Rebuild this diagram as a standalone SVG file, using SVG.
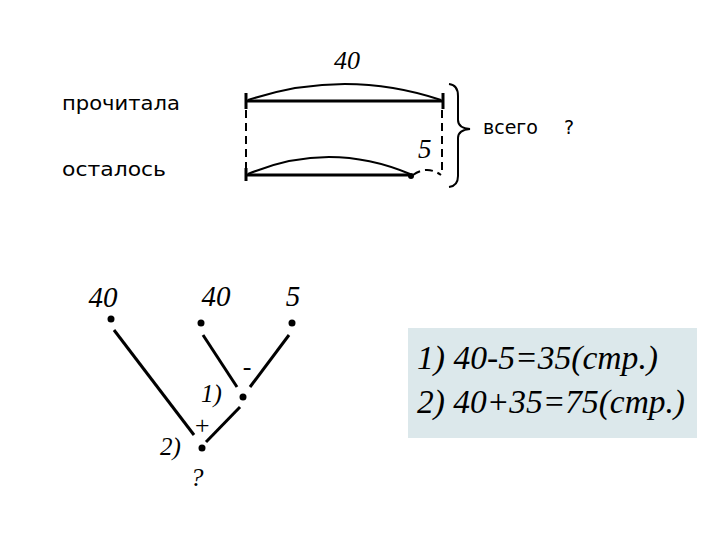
<svg xmlns="http://www.w3.org/2000/svg" width="720" height="540" viewBox="0 0 720 540">
<style>
.ln{stroke:#000;stroke-width:3;fill:none}
.arc{stroke:#000;stroke-width:2;fill:none}
.dash{stroke:#000;stroke-width:2;fill:none;stroke-dasharray:8,5}
.sans{font-family:"DejaVu Sans","Noto Sans",sans-serif;font-size:19px;fill:#000}
.it{font-family:"Liberation Serif",serif;font-style:italic;fill:#000}
.dot{fill:#000}
</style>
<rect width="720" height="540" fill="#fff"/>
<g id="segment-diagram">
  <text class="it" x="347" y="69" font-size="26" text-anchor="middle">40</text>
  <text class="sans" x="62" y="110" textLength="118" lengthAdjust="spacingAndGlyphs">прочитала</text>
  <text class="sans" x="62" y="176" textLength="104" lengthAdjust="spacingAndGlyphs">осталось</text>
  <line class="ln" x1="246" y1="101" x2="443" y2="101"/>
  <line class="ln" x1="246" y1="93" x2="246" y2="109"/>
  <line class="ln" x1="443" y1="93" x2="443" y2="109"/>
  <path class="arc" d="M248,100 Q345,68 441,100"/>
  <line class="dash" x1="246" y1="110" x2="246" y2="170"/>
  <line class="dash" x1="442" y1="110" x2="442" y2="172"/>
  <line class="ln" x1="246" y1="175" x2="411" y2="175"/>
  <line class="ln" x1="246" y1="168" x2="246" y2="181"/>
  <circle class="dot" cx="411" cy="176" r="3"/>
  <path class="arc" d="M248,174 Q329,140 410,174"/>
  <path class="dash" d="M413,175 Q427,165 441,175" stroke-dasharray="5,4"/>
  <text class="it" x="418" y="158" font-size="27">5</text>
  <path class="arc" d="M449,84 Q458,85 458,96 L458,120 Q458,128 470,129 Q458,130 458,138 L458,176 Q458,186 449,187"/>
  <text class="sans" x="483" y="134">всего</text>
  <text class="sans" x="564" y="134">?</text>
</g>
<g id="tree-connectors">
  <line class="ln" x1="114" y1="330" x2="194" y2="435"/>
  <line class="ln" x1="203" y1="335" x2="237" y2="387"/>
  <line class="ln" x1="289" y1="335" x2="250" y2="387"/>
  <line class="ln" x1="240" y1="407" x2="206" y2="442"/>
</g>
<g id="node-40a">
  <text class="it" x="103" y="307" font-size="29" text-anchor="middle">40</text>
  <circle class="dot" cx="111" cy="319" r="3.5"/>
</g>
<g id="node-40b">
  <text class="it" x="216" y="306" font-size="29" text-anchor="middle">40</text>
  <circle class="dot" cx="201" cy="323" r="3.5"/>
</g>
<g id="node-5">
  <text class="it" x="293" y="306" font-size="29" text-anchor="middle">5</text>
  <circle class="dot" cx="292" cy="323" r="3.5"/>
</g>
<g id="node-1">
  <text class="it" x="247" y="375" font-size="26" text-anchor="middle">-</text>
  <text class="it" x="201" y="402" font-size="25">1)</text>
  <circle class="dot" cx="243" cy="397" r="3.5"/>
</g>
<g id="node-2">
  <text class="it" x="202" y="434" font-size="26" text-anchor="middle">+</text>
  <text class="it" x="160" y="455" font-size="25">2)</text>
  <circle class="dot" cx="202" cy="448" r="3.5"/>
  <text class="it" x="197" y="486" font-size="26" text-anchor="middle">?</text>
</g>
<g id="solution-box">
  <rect x="408" y="328" width="289" height="110" fill="#dce8eb"/>
  <text class="it" x="417" y="369" font-size="34" textLength="241" lengthAdjust="spacingAndGlyphs">1) 40-5=35(стр.)</text>
  <text class="it" x="417" y="413" font-size="34" textLength="268" lengthAdjust="spacingAndGlyphs">2) 40+35=75(стр.)</text>
</g>
</svg>
